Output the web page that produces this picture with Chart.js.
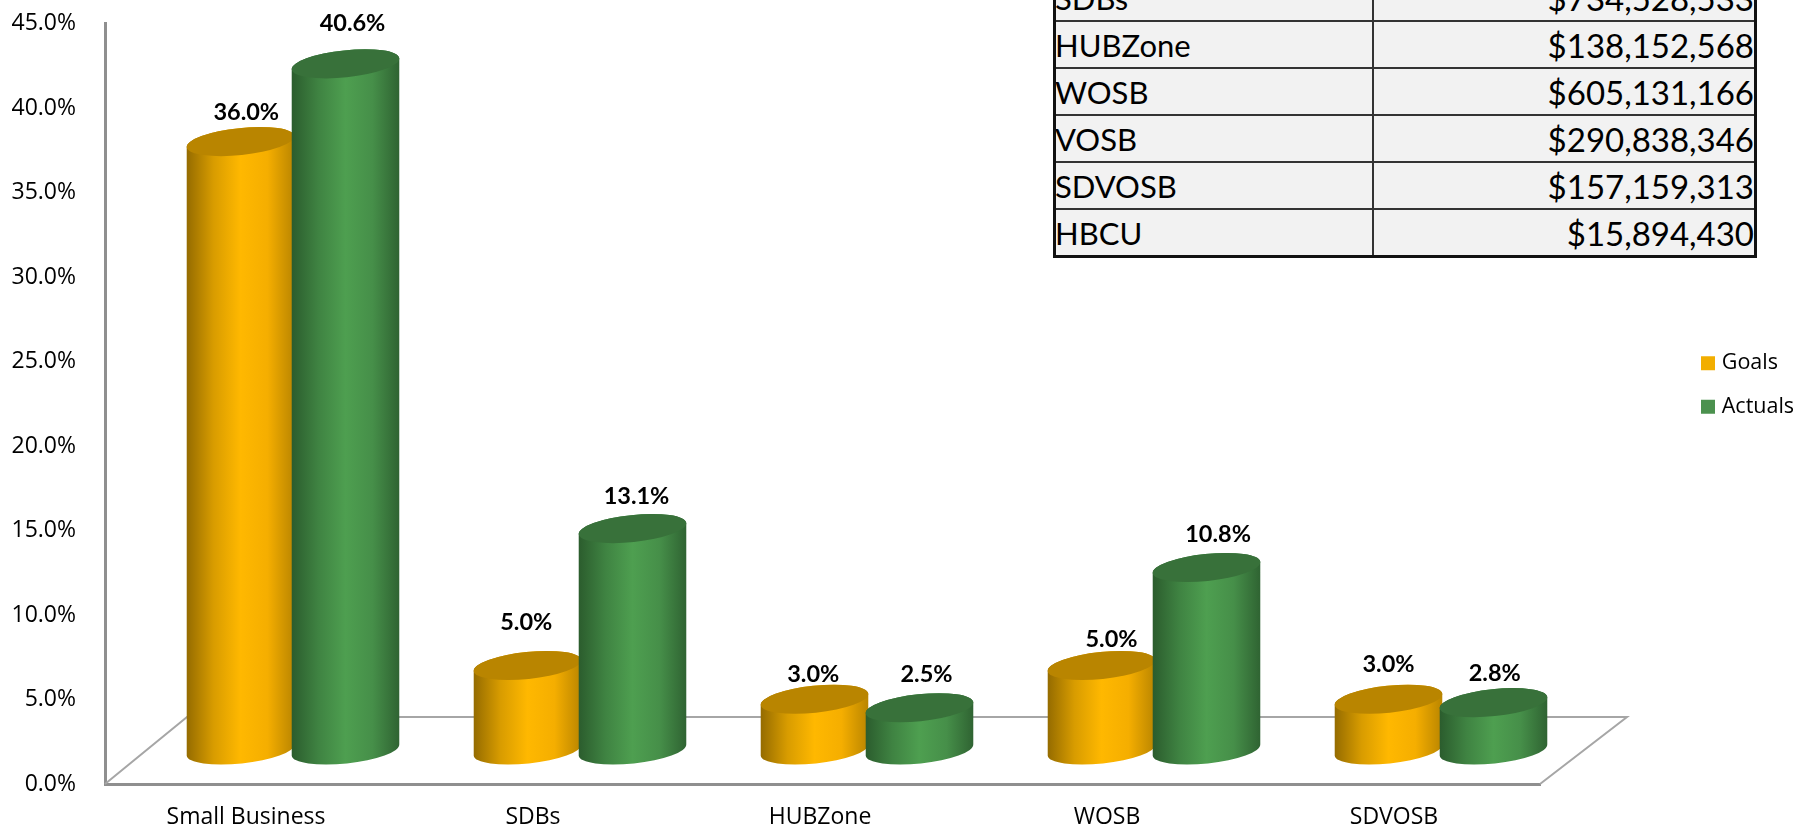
<!DOCTYPE html>
<html><head><meta charset="utf-8">
<script src="https://cdn.jsdelivr.net/npm/chart.js@4/dist/chart.umd.js"></script>
<style>
html,body{margin:0;padding:0;background:#fff;overflow:hidden;width:1806px;height:828px}
#wrap{position:absolute;left:0;top:0;width:1806px;height:828px}
table{position:absolute;left:1053px;top:-28px;width:704px;height:284px;border-collapse:collapse;background:#f2f2f2;font-family:Lato,sans-serif;font-size:33px;color:#000;table-layout:fixed;border:3px solid #111}
td{border:2px solid #333;padding:0;height:45px;line-height:40px;white-space:nowrap;overflow:hidden}
td:first-child{width:316px;font-size:31px;text-indent:-1px}
td:last-child{text-align:right}
</style></head><body>
<div id="wrap"><canvas id="c" width="1806" height="828"></canvas>
<table id="t"></table></div>
<script>
const categories=['Small Business','SDBs','HUBZone','WOSB','SDVOSB'];
const goals=[36.0,5.0,3.0,5.0,3.0];
const actuals=[40.6,13.1,2.5,10.8,2.8];
const tableNames=['SDBs','HUBZone','WOSB','VOSB','SDVOSB','HBCU'];
const tableAmounts=['$734,528,533','$138,152,568','$605,131,166','$290,838,346','$157,159,313','$15,894,430'];

document.getElementById('t').innerHTML=tableNames.map((n,i)=>'<tr><td>'+n+'</td><td>'+tableAmounts[i]+'</td></tr>').join('');

const DEPTH_X=44.5, DEPTH_Y=34, TILT=-6*Math.PI/180, MINOR=13.5;
const labelNudge=[[[5.75,-29.5],[7,-40.5]],[[-1.25,-43.5],[4,-32.2]],[[-1.25,-24.8],[7,-33]],[[10,-26.2],[11.6,-33.3]],[[0,-35],[1.25,-29.5]]];
const styles=[
 {stops:['#946b00','#d89c00','#ffb800','#f5ae00','#b98500'],top:'#b98500'},
 {stops:['#2b5c2d','#3f8342','#4e9f50','#468f49','#2f6332'],top:'#38713a'}
];
const cylinders={id:'cylinders',
 beforeInit(chart){const f=chart.legend.fit;chart.legend.fit=function(){f.call(this);this.width=266;};},
 afterLayout(chart){const l=chart.legend;const w=l.width;l.left=1705-l.options.labels.padding;l.right=l.left+w;l.top=285;l.bottom=485;},
 beforeDatasetsDraw(chart){
  const {ctx,scales:{x,y}}=chart;const y0=y.getPixelForValue(0);
  ctx.save();ctx.strokeStyle='#a6a6a6';ctx.lineWidth=2;ctx.beginPath();
  ctx.moveTo(x.left,y0);ctx.lineTo(x.left+82,y0-67);ctx.lineTo(x.right+87,y0-67);ctx.lineTo(x.right,y0);ctx.stroke();ctx.restore();
  // Actuals overlap Goals, so Goals paint first
  chart.data.datasets.forEach((ds,d)=>{
   const st=styles[d];
   chart.getDatasetMeta(d).data.forEach(el=>{
    const p=el.getProps(['x','y','base','width']);
    const cx=p.x+DEPTH_X,a=p.width/2,yt=p.y-DEPTH_Y,yb=p.base-DEPTH_Y;
    const g=ctx.createLinearGradient(cx-a,0,cx+a,0);
    st.stops.forEach((c,i)=>g.addColorStop(i/(st.stops.length-1),c));
    ctx.save();ctx.fillStyle=g;ctx.beginPath();
    ctx.ellipse(cx,yt,a,MINOR,TILT,Math.PI,0,false);
    ctx.ellipse(cx,yb,a,MINOR,TILT,0,Math.PI,false);
    ctx.closePath();ctx.fill();
    ctx.fillStyle=st.top;ctx.beginPath();ctx.ellipse(cx,yt,a,MINOR,TILT,0,Math.PI*2);ctx.fill();
    ctx.restore();
   });
  });
 },
 beforeDatasetDraw(){return false;},
 afterDatasetsDraw(chart){
  const {ctx}=chart;ctx.save();ctx.font='bold 23.5px Lato';ctx.fillStyle='#000';ctx.textAlign='center';ctx.textBaseline='middle';
  chart.data.datasets.forEach((ds,d)=>{chart.getDatasetMeta(d).data.forEach((el,i)=>{
   const p=el.getProps(['x','y']);const n=labelNudge[i][d];
   ctx.fillText(ds.data[i].toFixed(1)+'%',p.x+DEPTH_X+n[0],p.y-DEPTH_Y+n[1]);
  });});ctx.restore();
 }
};
Chart.defaults.font.family='"Open Sans"';
new Chart(document.getElementById('c'),{
 type:'bar',
 data:{labels:categories,datasets:[
  {label:'Goals',data:goals,backgroundColor:'#f2ae00',borderColor:'#f2ae00',borderWidth:8},
  {label:'Actuals',data:actuals,backgroundColor:'#4b914e',borderColor:'#4b914e',borderWidth:8}
 ]},
 plugins:[cylinders],
 options:{
  responsive:false,animation:false,
  categoryPercentage:0.7317,barPercentage:1.03,
  layout:{padding:{top:23.5,left:0,right:0,bottom:0}},
  plugins:{tooltip:{enabled:false},
   legend:{position:'right',labels:{boxWidth:6,boxHeight:6,padding:22,color:'#000',font:{size:21.5}}}},
  scales:{
   x:{grid:{display:false},border:{display:true,color:'#8f8f8f',width:3},
      afterFit(s){s.height=44;},
      ticks:{color:'#000',font:{size:23},padding:12,labelOffset:-2.5,maxRotation:0}},
   y:{min:0,max:45,grid:{display:false},border:{display:true,color:'#8f8f8f',width:3},
      afterFit(s){s.width=105;s.paddingTop=0;s.paddingBottom=0;},
      ticks:{stepSize:5,color:'#000',font:{size:23},padding:21,labelOffset:0,callback:v=>v.toFixed(1)+'%'}}
  }
 }
});
</script></body></html>
